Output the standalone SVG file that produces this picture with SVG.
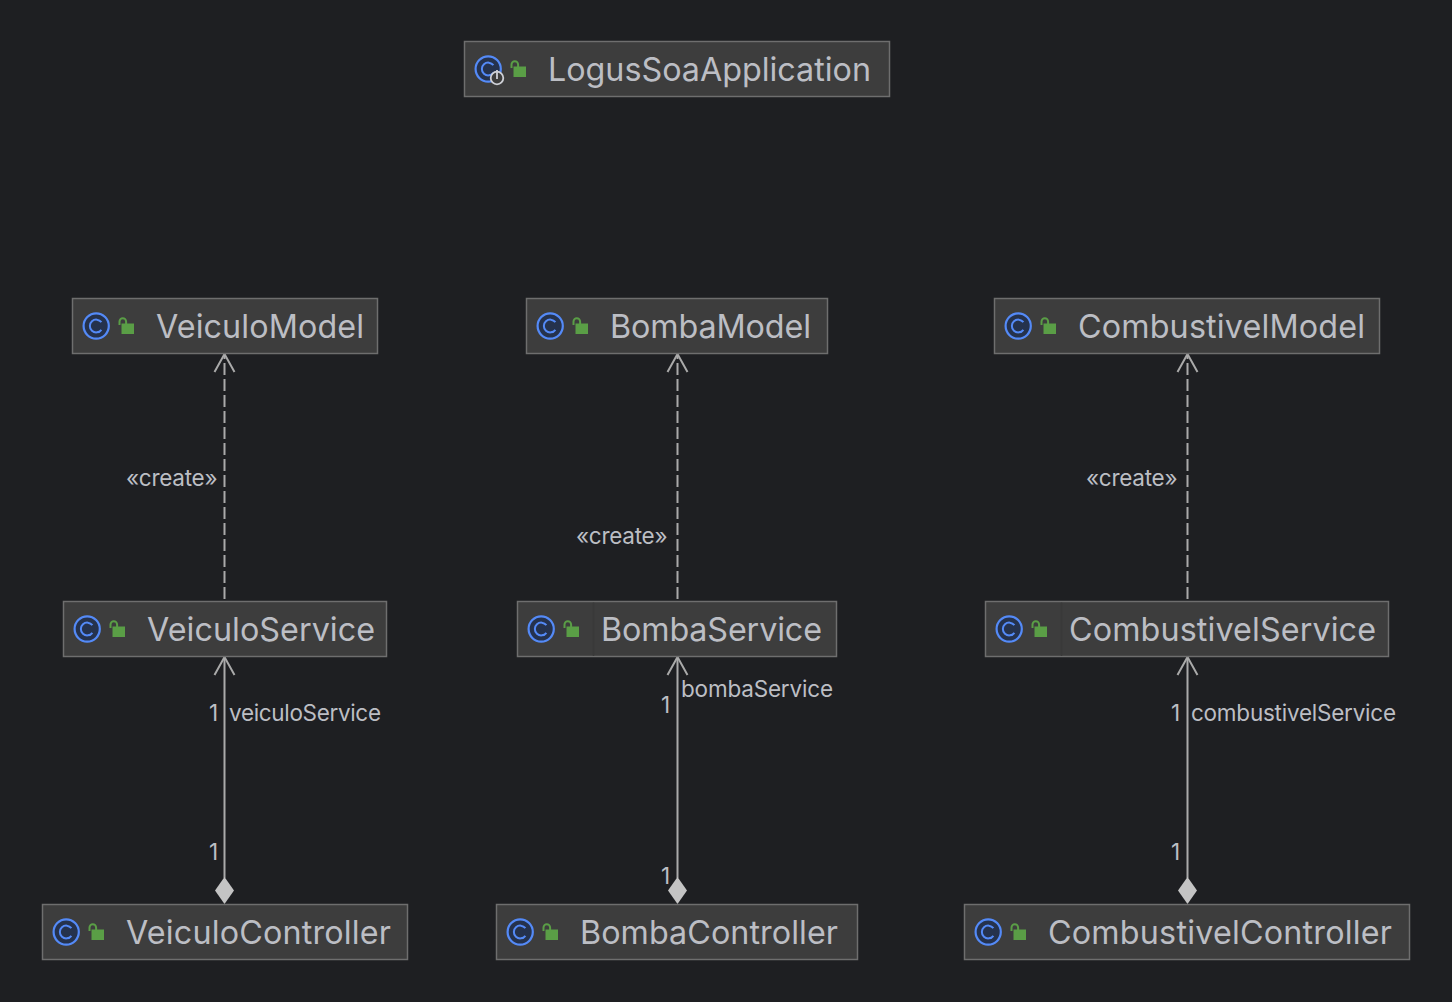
<svg xmlns="http://www.w3.org/2000/svg" xmlns:xlink="http://www.w3.org/1999/xlink" width="1452" height="1002" viewBox="0 0 1452 1002">
<style>
text{font-family:"Inter","Noto Sans",sans-serif;fill:#bcbec4}
.n{font-size:32.300px}
.l{font-size:22.500px}
.box{fill:#3d3d3d;stroke:#6e6e6e;stroke-width:1.500}
.sep{stroke:#393939;stroke-width:1.500}
.line{fill:none;stroke:#aaaaaa;stroke-width:2}
.dash{stroke-dasharray:12 4}
.head{fill:none;stroke:#aaaaaa;stroke-width:2}
.dia{fill:#c4c4c4;stroke:none}
</style>
<defs>
<g id="icons">
<circle cx="13.700" cy="14" r="12.600" fill="#25324d" stroke="#548af7" stroke-width="2.200"/>
<path d="M18.900 10.200A6.400 6.400 0 1 0 18.900 17.800" fill="none" stroke="#548af7" stroke-width="2"/>
<rect x="39" y="11.500" width="12.500" height="10.500" fill="#5a9e46"/>
<path d="M37 13V9.500A3.300 3.300 0 0 1 43.600 9.500V12" fill="none" stroke="#5a9e46" stroke-width="2"/>
</g>
</defs>
<rect width="1452" height="1002" fill="#1e1f22"/>
<g id="connectors">
<path class="line dash" d="M224.500 347V601"/><path class="head" d="M214.500 372L224.500 354L234.500 372"/>
<path class="line dash" d="M677.500 347V601"/><path class="head" d="M667.500 372L677.500 354L687.500 372"/>
<path class="line dash" d="M1187.500 347V601"/><path class="head" d="M1177.500 372L1187.500 354L1197.500 372"/>
<path class="line" d="M224.500 878V657"/><path class="head" d="M214.500 675L224.500 657L234.500 675"/><path class="dia" d="M224.500 877L234 890.500L224.500 904L215 890.500Z"/>
<path class="line" d="M677.500 878V657"/><path class="head" d="M667.500 675L677.500 657L687.500 675"/><path class="dia" d="M677.500 877L687 890.500L677.500 904L668 890.500Z"/>
<path class="line" d="M1187.500 878V657"/><path class="head" d="M1177.500 675L1187.500 657L1197.500 675"/><path class="dia" d="M1187.500 877L1197 890.500L1187.500 904L1178 890.500Z"/>
<text class="l" x="126" y="486" textLength="91.500">«create»</text>
<text class="l" x="576" y="544" textLength="91.500">«create»</text>
<text class="l" x="1086" y="486" textLength="91.500">«create»</text>
<text class="l" x="209" y="721">1</text><text class="l" x="229" y="721" textLength="152">veiculoService</text>
<text class="l" x="661" y="713">1</text><text class="l" x="681" y="697" textLength="152">bombaService</text>
<text class="l" x="1171" y="721">1</text><text class="l" x="1191" y="721" textLength="205">combustivelService</text>
<text class="l" x="209" y="860">1</text><text class="l" x="661" y="884">1</text><text class="l" x="1171" y="860">1</text>
</g>
<g id="LogusSoaApplication"><rect class="box" x="464.500" y="41.500" width="425" height="55"/><use xlink:href="#icons" x="474.500" y="55"/><circle cx="497" cy="78" r="6.300" fill="#3d3d3d" stroke="#ced0d6" stroke-width="1.800"/><path d="M497 70V79" stroke="#ced0d6" stroke-width="1.800"/><text class="n" x="548" y="81" textLength="323">LogusSoaApplication</text></g>
<g id="VeiculoModel"><rect class="box" x="72.500" y="298.500" width="305" height="55"/><use xlink:href="#icons" x="82.500" y="312"/><text class="n" x="156" y="338" textLength="208">VeiculoModel</text></g>
<g id="BombaModel"><rect class="box" x="526.500" y="298.500" width="301" height="55"/><use xlink:href="#icons" x="536.500" y="312"/><text class="n" x="610" y="338" textLength="201">BombaModel</text></g>
<g id="CombustivelModel"><rect class="box" x="994.500" y="298.500" width="385" height="55"/><use xlink:href="#icons" x="1004.500" y="312"/><text class="n" x="1078" y="338" textLength="287">CombustivelModel</text></g>
<g id="VeiculoService"><rect class="box" x="63.500" y="601.500" width="323" height="55"/><use xlink:href="#icons" x="73.500" y="615"/><text class="n" x="147" y="641" textLength="228">VeiculoService</text></g>
<g id="BombaService"><rect class="box" x="517.500" y="601.500" width="319" height="55"/><path class="sep" d="M593.500 602.500V656"/><use xlink:href="#icons" x="527.500" y="615"/><text class="n" x="601" y="641" textLength="221">BombaService</text></g>
<g id="CombustivelService"><rect class="box" x="985.500" y="601.500" width="403" height="55"/><path class="sep" d="M1061.500 602.500V656"/><use xlink:href="#icons" x="995.500" y="615"/><text class="n" x="1069" y="641" textLength="307">CombustivelService</text></g>
<g id="VeiculoController"><rect class="box" x="42.500" y="904.500" width="365" height="55"/><use xlink:href="#icons" x="52.500" y="918"/><text class="n" x="126" y="944" textLength="265">VeiculoController</text></g>
<g id="BombaController"><rect class="box" x="496.500" y="904.500" width="361" height="55"/><use xlink:href="#icons" x="506.500" y="918"/><text class="n" x="580" y="944" textLength="258">BombaController</text></g>
<g id="CombustivelController"><rect class="box" x="964.500" y="904.500" width="445" height="55"/><use xlink:href="#icons" x="974.500" y="918"/><text class="n" x="1048" y="944" textLength="344">CombustivelController</text></g>
</svg>
